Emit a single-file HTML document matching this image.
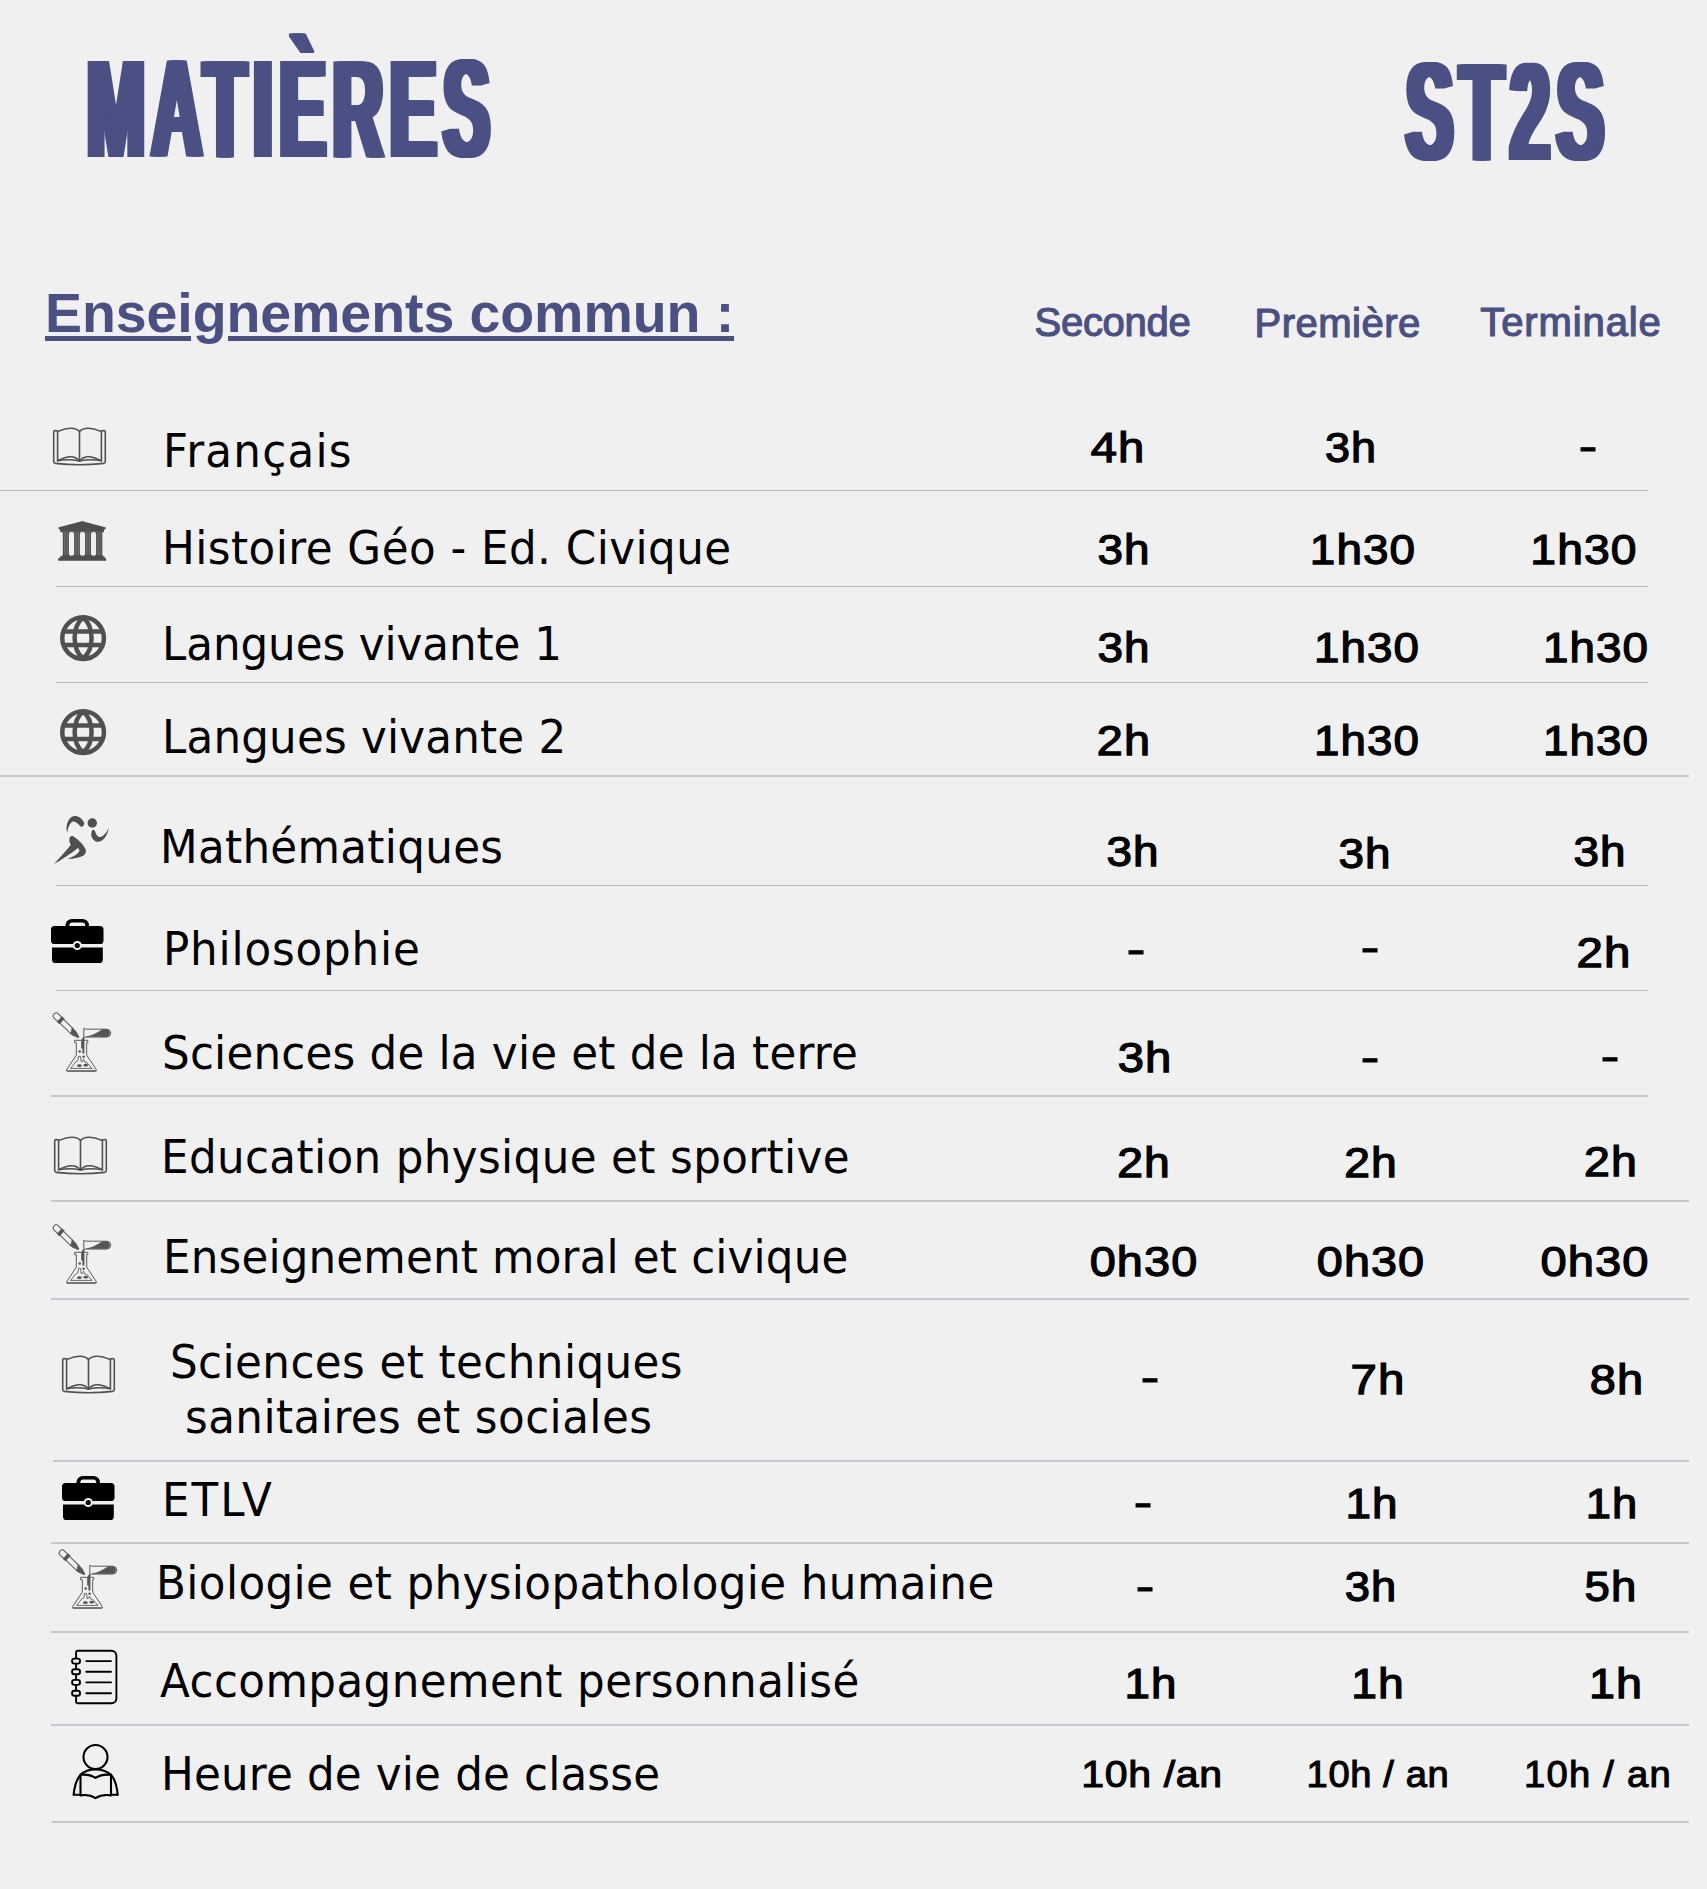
<!DOCTYPE html>
<html lang="fr"><head><meta charset="utf-8"><title>MATIÈRES ST2S</title>
<style>
html,body{margin:0;padding:0;background:#f0f0f0;}
#pg{position:relative;width:1707px;height:1889px;overflow:hidden;background:#f0f0f0;}
.t{position:absolute;white-space:nowrap;line-height:1;margin:0;}
.lab{font-family:"DejaVu Sans", "Liberation Sans", sans-serif;color:#000;}
.val{font-family:"Liberation Sans", sans-serif;color:#000;-webkit-text-stroke:1.25px #000;}
.sm{-webkit-text-stroke:1.05px #000;}
.dash{-webkit-text-stroke:0.8px #000;}
.hd{font-family:"Liberation Sans", sans-serif;color:#4a5084;-webkit-text-stroke:1.2px #4a5084;}
.sec{font-family:"Liberation Sans", sans-serif;color:#4a5084;font-weight:700;text-decoration:underline;text-decoration-thickness:5.2px;text-underline-offset:4.2px;text-decoration-skip-ink:auto;}

.ln{position:absolute;height:2px;background:#c6c6d0;}
.l1{height:1.4px;background:#b6b6be;}
.ic{position:absolute;overflow:visible;}
.ttl{position:absolute;white-space:nowrap;line-height:1;font-family:"Liberation Sans", sans-serif;font-weight:700;color:#4a5084;
 font-size:139.5px;letter-spacing:14px;transform-origin:0 0;transform:scaleX(0.498);
 text-shadow:8px 0 0 #4a5084,-8px 0 0 #4a5084,4px 0 0 #4a5084,-4px 0 0 #4a5084;}
</style></head>
<body><main id="pg">
<header class="top">
<div class="ttl" style="left:87px;top:40px;">MATIÈRES</div>
<div class="ttl" style="left:1405.5px;top:43px;transform:scaleX(0.506)">ST2S</div>
</header>
<div class="heads">
<div class="t hd" style="left:1112.5px;top:302.3px;font-size:40px;letter-spacing:-0.3px;transform:translateX(-50%);">Seconde</div>
<div class="t hd" style="left:1337.7px;top:303.2px;font-size:40px;letter-spacing:0.5px;transform:translateX(-50%);">Première</div>
<div class="t hd" style="left:1571.0px;top:302.3px;font-size:40px;letter-spacing:0.9px;transform:translateX(-50%);">Terminale</div>
<div class="t sec" style="left:45.0px;top:286.2px;font-size:55.5px;letter-spacing:-0.08px;">Enseignements commun :</div>
</div>
<div class="row">
<svg class="ic" style="left:53px;top:427px" width="53" height="38.51" viewBox="0 0 53 39.5" preserveAspectRatio="none"><g fill="none" stroke="#505050" stroke-width="1.6" stroke-linejoin="round" stroke-linecap="round"><path d="M4.6 4.2 L2.2 3.6 Q0.7 3.6 0.7 5.2 L0.7 35.5 Q0.7 37.2 2.3 37.3 Q26.5 40 50.7 37.3 Q52.3 37.2 52.3 35.5 L52.3 5.2 Q52.3 3.6 50.8 3.6 L48.4 4.2"/><path d="M4.6 34.6 L4.6 4.6 C12 1.5 21.5 -1.5 26.5 4.6 L26.5 34.8"/><path d="M48.4 34.6 L48.4 4.6 C41 1.5 31.5 -1.5 26.5 4.6"/><path d="M4.6 34.6 C12 31 20.5 27.5 26.5 34.8 C32.5 27.5 41 31 48.4 34.6"/><path d="M4.6 34.6 C13 33.2 20 33.4 26.5 35 C33 33.4 40 33.2 48.4 34.6"/></g></svg>
<div class="t lab" style="left:162.8px;top:427.8px;font-size:46.4px;letter-spacing:1.341px;transform-origin:0 0;transform:scaleX(0.94);">Français</div>
<div class="t val" style="left:1117.5px;top:427.3px;font-size:42.4px;letter-spacing:1.0px;transform:translateX(-50%) scaleX(1.1136);">4h</div>
<div class="t val" style="left:1351.2px;top:427.3px;font-size:42.4px;letter-spacing:1.0px;transform:translateX(-50%) scaleX(1.0606);">3h</div>
<div class="t val dash" style="left:1587.8px;top:425.7px;font-size:42.4px;transform:translateX(-50%) scaleX(1.35);">-</div>
<div class="ln l1" style="left:0.0px;top:489.7px;width:1647.6px"></div>
</div>
<div class="row">
<svg class="ic" style="left:58px;top:521px" width="48.2" height="40.00" viewBox="0 0 48.2 40"><g fill="#4e4e4e"><path d="M23 0.4 Q24.2 -0.3 25.4 0.4 L47.4 6.2 Q48.2 7.4 47.2 8.4 L46 8.5 L46 11.2 L2.2 11.2 L2.2 8.5 L1 8.4 Q0 7.4 0.8 6.2 Z"/><rect x="4.9" y="10.5" width="39.3" height="25" fill="#727272"/><rect x="4.9" y="10.5" width="1.3" height="25"/><rect x="7.4" y="10.5" width="1.1" height="25"/><rect x="9.7" y="10.5" width="1.3" height="25"/><rect x="16" y="10.5" width="1.3" height="25"/><rect x="18.5" y="10.5" width="1.1" height="25"/><rect x="20.8" y="10.5" width="1.3" height="25"/><rect x="27" y="10.5" width="1.3" height="25"/><rect x="29.6" y="10.5" width="1.1" height="25"/><rect x="31.9" y="10.5" width="1.3" height="25"/><rect x="38" y="10.5" width="1.3" height="25"/><rect x="40.6" y="10.5" width="1.1" height="25"/><rect x="42.9" y="10.5" width="1.3" height="25"/><path d="M4.2 33.9 H44.8 V35.3 H46.6 V37 H48 V39.8 H0.2 V37 H2 V35.3 H4.2Z"/><g fill="#f0f0f0"><rect x="10.9" y="11" width="5.2" height="23.8" rx="2.4"/><rect x="21.9" y="11" width="5.2" height="23.8" rx="2.4"/><rect x="33" y="11" width="5.1" height="23.8" rx="2.4"/></g></g></svg>
<div class="t lab" style="left:162.0px;top:524.8px;font-size:46.4px;letter-spacing:0.496px;transform-origin:0 0;transform:scaleX(0.94);">Histoire Géo - Ed. Civique</div>
<div class="t val" style="left:1124.0px;top:529.1px;font-size:42.4px;letter-spacing:1.0px;transform:translateX(-50%) scaleX(1.0825);">3h</div>
<div class="t val" style="left:1362.5px;top:529.1px;font-size:42.4px;letter-spacing:1.0px;transform:translateX(-50%) scaleX(1.0812);">1h30</div>
<div class="t val" style="left:1583.5px;top:529.1px;font-size:42.4px;letter-spacing:1.0px;transform:translateX(-50%) scaleX(1.0918);">1h30</div>
<div class="ln l1" style="left:56.4px;top:585.7px;width:1591.2px"></div>
</div>
<div class="row">
<svg class="ic" style="left:60px;top:615px" width="46.2" height="46.20" viewBox="0 0 46.2 46.2"><g fill="none" stroke="#505050" stroke-width="4.5" stroke-linejoin="miter"><circle cx="23.1" cy="23.1" r="20.85"/><path d="M23.1 2.6 C11.8 12 11.8 34.2 23.1 43.6 C34.4 34.2 34.4 12 23.1 2.6Z"/><path d="M3 16.5 H43.2 M3 29.9 H43.2"/></g></svg>
<div class="t lab" style="left:161.6px;top:620.8px;font-size:46.4px;letter-spacing:-0.073px;transform-origin:0 0;transform:scaleX(0.94);">Langues vivante 1</div>
<div class="t val" style="left:1124.0px;top:627.3px;font-size:42.4px;letter-spacing:1.0px;transform:translateX(-50%) scaleX(1.0825);">3h</div>
<div class="t val" style="left:1366.5px;top:627.3px;font-size:42.4px;letter-spacing:1.0px;transform:translateX(-50%) scaleX(1.0772);">1h30</div>
<div class="t val" style="left:1596.4px;top:627.3px;font-size:42.4px;letter-spacing:1.0px;transform:translateX(-50%) scaleX(1.0791);">1h30</div>
<div class="ln l1" style="left:56.4px;top:681.9px;width:1591.2px"></div>
</div>
<div class="row">
<svg class="ic" style="left:60px;top:708.5px" width="46.2" height="46.20" viewBox="0 0 46.2 46.2"><g fill="none" stroke="#505050" stroke-width="4.5" stroke-linejoin="miter"><circle cx="23.1" cy="23.1" r="20.85"/><path d="M23.1 2.6 C11.8 12 11.8 34.2 23.1 43.6 C34.4 34.2 34.4 12 23.1 2.6Z"/><path d="M3 16.5 H43.2 M3 29.9 H43.2"/></g></svg>
<div class="t lab" style="left:161.6px;top:713.8px;font-size:46.4px;letter-spacing:0.208px;transform-origin:0 0;transform:scaleX(0.94);">Langues vivante 2</div>
<div class="t val" style="left:1123.5px;top:719.8px;font-size:42.4px;letter-spacing:1.0px;transform:translateX(-50%) scaleX(1.1042);">2h</div>
<div class="t val" style="left:1366.5px;top:719.8px;font-size:42.4px;letter-spacing:1.0px;transform:translateX(-50%) scaleX(1.0772);">1h30</div>
<div class="t val" style="left:1596.4px;top:719.8px;font-size:42.4px;letter-spacing:1.0px;transform:translateX(-50%) scaleX(1.0791);">1h30</div>
<div class="ln" style="left:0.0px;top:774.9px;width:1688.7px"></div>
</div>
<div class="row">
<svg class="ic" style="left:40px;top:805px" width="80" height="60.00" viewBox="0 0 80 60"><g fill="#4f4f4f"><path d="M27.2 27.8 C25.4 21 27.6 14.5 31.5 11.9 C35.5 9.6 41.5 12 44.1 17.6 C44.8 20 43 22.4 40.6 21.4 C38.2 19 35.5 15.8 32.8 16.6 C29.5 18 28 23 27.2 27.8Z"/><circle cx="52.3" cy="18" r="4.75"/><path d="M52.9 24.8 C50.6 26.5 50.8 31.5 53 34.3 C55 36.8 58.5 37.6 61 36.1 C65.5 33.3 68 28.5 68.6 23 C66.5 28 63.5 31.2 60.6 32 C58 32.4 56.6 30.5 55.6 27.8 C55.2 26.2 54.4 24.9 52.9 24.8Z"/><path d="M30 32 C30.8 31 32.4 30.8 33.6 31.6 C37.5 34.2 42.5 38.5 45.2 43.6 C46.6 46.5 45.8 49 43.6 50.4 C39 53 33 53.8 27.6 53.7 C31.5 52.6 36 50.4 38.4 47.6 C40 45.8 39.6 44 37.8 43 C30.5 49 22 54.6 14 58.9 C20 52.5 26.5 45.5 30.9 39.8 C29.2 37.5 28.8 34 30 32Z"/></g></svg>
<div class="t lab" style="left:159.6px;top:823.8px;font-size:46.4px;letter-spacing:0.342px;transform-origin:0 0;transform:scaleX(0.94);">Mathématiques</div>
<div class="t val" style="left:1133.2px;top:831.3px;font-size:42.4px;letter-spacing:1.0px;transform:translateX(-50%) scaleX(1.0825);">3h</div>
<div class="t val" style="left:1365.4px;top:833.1px;font-size:42.4px;letter-spacing:1.0px;transform:translateX(-50%) scaleX(1.0825);">3h</div>
<div class="t val" style="left:1600.4px;top:831.3px;font-size:42.4px;letter-spacing:1.0px;transform:translateX(-50%) scaleX(1.0825);">3h</div>
<div class="ln l1" style="left:56.4px;top:884.8px;width:1591.2px"></div>
</div>
<div class="row">
<svg class="ic" style="left:40px;top:910px" width="80" height="60.00" viewBox="0 0 80 60"><g fill="#000"><path d="M25.5 17 V15.4 A6.5 6.5 0 0 1 32 8.9 H42.5 A6.5 6.5 0 0 1 49 15.4 V17 H45.2 V15.6 A3 3 0 0 0 42.2 12.6 H32.3 A3 3 0 0 0 29.3 15.6 V17Z"/><rect x="11" y="15.9" width="52.5" height="18.1" rx="3.6"/><path d="M12 37.5 H62.8 V49.4 A3.6 3.6 0 0 1 59.2 53 H15.6 A3.6 3.6 0 0 1 12 49.4Z"/><circle cx="37.25" cy="35.5" r="4.5" fill="#f0f0f0"/><circle cx="37.25" cy="35.5" r="2.6"/></g></svg>
<div class="t lab" style="left:163.4px;top:925.8px;font-size:46.4px;letter-spacing:0.88px;transform-origin:0 0;transform:scaleX(0.94);">Philosophie</div>
<div class="t val dash" style="left:1135.7px;top:929.2px;font-size:42.4px;transform:translateX(-50%) scaleX(1.35);">-</div>
<div class="t val dash" style="left:1370.1px;top:927.2px;font-size:42.4px;transform:translateX(-50%) scaleX(1.35);">-</div>
<div class="t val" style="left:1604.0px;top:931.7px;font-size:42.4px;letter-spacing:1.0px;transform:translateX(-50%) scaleX(1.1191);">2h</div>
<div class="ln l1" style="left:56.4px;top:989.5px;width:1591.2px"></div>
</div>
<div class="row">
<svg class="ic" style="left:40px;top:1005px" width="80" height="75.00" viewBox="0 0 80 75"><g fill="none" stroke="#5a5a5a" stroke-width="1" stroke-linejoin="round" stroke-linecap="round"><g transform="translate(14.06 8.9) rotate(-46.1) translate(-3 0)"><path d="M0 8 V3 A3 3 0 0 1 6 3 V8"/><rect x="-0.8" y="7.4" width="7.6" height="3.7" fill="#555" stroke="none"/><path d="M0.4 11 V26 M5.6 11 V24"/><path d="M0.4 25.6 L5.6 22.6 L5.6 28 L3.7 34 L2.5 34 L0.4 28Z" fill="#555" stroke="#555" stroke-width="0.6"/></g><path d="M46 24.2 H66.8 A3.9 3.9 0 0 1 66.8 32 H46 L43.8 32.4 V23.6 Z"/><path d="M47 31.6 C54 30.5 58 27 62.5 24.6 H66.8 A3.7 3.7 0 0 1 66.8 31.8Z" fill="#555" stroke="#555" stroke-width="0.6"/><path d="M43.9 32 C41.8 33 41.2 35 41.2 37 V43.5 H42.4 V48.6 H44.4 V33.5Z" fill="#555" stroke="none"/><path d="M35 35.3 H47.8 V37.6 H46.7 V50.2 L56.3 64.6 Q56.8 66.3 55 66.4 H28 Q26.2 66.3 26.7 64.6 L36.3 50.2 V37.6 H35Z"/><path d="M31 63.4 H52 L46.5 57.2 H44.8 L43.6 54.2 L42.2 56.6 H41.2 L40.6 51.4 H38.4 L38 55.6 L36 56.8Z" stroke-width="0.9"/><path d="M27.2 65.9 H55.8" stroke-width="1.6" stroke="#777"/><g fill="#555" stroke="none"><circle cx="39.7" cy="46.6" r="1.25"/><circle cx="43.6" cy="51.8" r="1.25"/><ellipse cx="39.4" cy="60.7" rx="2.4" ry="1.35"/><ellipse cx="45.7" cy="60.2" rx="2.4" ry="1.35"/></g></g></svg>
<div class="t lab" style="left:161.6px;top:1029.8px;font-size:46.4px;letter-spacing:0.225px;transform-origin:0 0;transform:scaleX(0.94);">Sciences de la vie et de la terre</div>
<div class="t val" style="left:1145.1px;top:1036.7px;font-size:42.4px;letter-spacing:1.0px;transform:translateX(-50%) scaleX(1.1137);">3h</div>
<div class="t val dash" style="left:1370.1px;top:1036.5px;font-size:42.4px;transform:translateX(-50%) scaleX(1.35);">-</div>
<div class="t val dash" style="left:1609.5px;top:1036.2px;font-size:42.4px;transform:translateX(-50%) scaleX(1.35);">-</div>
<div class="ln" style="left:50.8px;top:1095.0px;width:1596.8px"></div>
</div>
<div class="row">
<svg class="ic" style="left:54px;top:1135.6px" width="53" height="38.51" viewBox="0 0 53 39.5" preserveAspectRatio="none"><g fill="none" stroke="#505050" stroke-width="1.6" stroke-linejoin="round" stroke-linecap="round"><path d="M4.6 4.2 L2.2 3.6 Q0.7 3.6 0.7 5.2 L0.7 35.5 Q0.7 37.2 2.3 37.3 Q26.5 40 50.7 37.3 Q52.3 37.2 52.3 35.5 L52.3 5.2 Q52.3 3.6 50.8 3.6 L48.4 4.2"/><path d="M4.6 34.6 L4.6 4.6 C12 1.5 21.5 -1.5 26.5 4.6 L26.5 34.8"/><path d="M48.4 34.6 L48.4 4.6 C41 1.5 31.5 -1.5 26.5 4.6"/><path d="M4.6 34.6 C12 31 20.5 27.5 26.5 34.8 C32.5 27.5 41 31 48.4 34.6"/><path d="M4.6 34.6 C13 33.2 20 33.4 26.5 35 C33 33.4 40 33.2 48.4 34.6"/></g></svg>
<div class="t lab" style="left:161.2px;top:1133.8px;font-size:46.4px;letter-spacing:0.402px;transform-origin:0 0;transform:scaleX(0.94);">Education physique et sportive</div>
<div class="t val" style="left:1144.2px;top:1142.1px;font-size:42.4px;letter-spacing:1.0px;transform:translateX(-50%) scaleX(1.0927);">2h</div>
<div class="t val" style="left:1371.0px;top:1142.1px;font-size:42.4px;letter-spacing:1.0px;transform:translateX(-50%) scaleX(1.0914);">2h</div>
<div class="t val" style="left:1611.0px;top:1141.3px;font-size:42.4px;letter-spacing:1.0px;transform:translateX(-50%) scaleX(1.0972);">2h</div>
<div class="ln" style="left:50.8px;top:1200.0px;width:1637.9px"></div>
</div>
<div class="row">
<svg class="ic" style="left:40.3px;top:1216.7px" width="80" height="75.00" viewBox="0 0 80 75"><g fill="none" stroke="#5a5a5a" stroke-width="1" stroke-linejoin="round" stroke-linecap="round"><g transform="translate(14.06 8.9) rotate(-46.1) translate(-3 0)"><path d="M0 8 V3 A3 3 0 0 1 6 3 V8"/><rect x="-0.8" y="7.4" width="7.6" height="3.7" fill="#555" stroke="none"/><path d="M0.4 11 V26 M5.6 11 V24"/><path d="M0.4 25.6 L5.6 22.6 L5.6 28 L3.7 34 L2.5 34 L0.4 28Z" fill="#555" stroke="#555" stroke-width="0.6"/></g><path d="M46 24.2 H66.8 A3.9 3.9 0 0 1 66.8 32 H46 L43.8 32.4 V23.6 Z"/><path d="M47 31.6 C54 30.5 58 27 62.5 24.6 H66.8 A3.7 3.7 0 0 1 66.8 31.8Z" fill="#555" stroke="#555" stroke-width="0.6"/><path d="M43.9 32 C41.8 33 41.2 35 41.2 37 V43.5 H42.4 V48.6 H44.4 V33.5Z" fill="#555" stroke="none"/><path d="M35 35.3 H47.8 V37.6 H46.7 V50.2 L56.3 64.6 Q56.8 66.3 55 66.4 H28 Q26.2 66.3 26.7 64.6 L36.3 50.2 V37.6 H35Z"/><path d="M31 63.4 H52 L46.5 57.2 H44.8 L43.6 54.2 L42.2 56.6 H41.2 L40.6 51.4 H38.4 L38 55.6 L36 56.8Z" stroke-width="0.9"/><path d="M27.2 65.9 H55.8" stroke-width="1.6" stroke="#777"/><g fill="#555" stroke="none"><circle cx="39.7" cy="46.6" r="1.25"/><circle cx="43.6" cy="51.8" r="1.25"/><ellipse cx="39.4" cy="60.7" rx="2.4" ry="1.35"/><ellipse cx="45.7" cy="60.2" rx="2.4" ry="1.35"/></g></g></svg>
<div class="t lab" style="left:162.8px;top:1233.8px;font-size:46.4px;letter-spacing:0.177px;transform-origin:0 0;transform:scaleX(0.94);">Enseignement moral et civique</div>
<div class="t val" style="left:1143.5px;top:1241.0px;font-size:42.4px;letter-spacing:1.0px;transform:translateX(-50%) scaleX(1.1044);">0h30</div>
<div class="t val" style="left:1370.5px;top:1241.0px;font-size:42.4px;letter-spacing:1.0px;transform:translateX(-50%) scaleX(1.1021);">0h30</div>
<div class="t val" style="left:1594.5px;top:1241.0px;font-size:42.4px;letter-spacing:1.0px;transform:translateX(-50%) scaleX(1.1109);">0h30</div>
<div class="ln" style="left:50.8px;top:1298.0px;width:1637.9px"></div>
</div>
<div class="row">
<svg class="ic" style="left:62px;top:1354.6px" width="53" height="38.51" viewBox="0 0 53 39.5" preserveAspectRatio="none"><g fill="none" stroke="#505050" stroke-width="1.6" stroke-linejoin="round" stroke-linecap="round"><path d="M4.6 4.2 L2.2 3.6 Q0.7 3.6 0.7 5.2 L0.7 35.5 Q0.7 37.2 2.3 37.3 Q26.5 40 50.7 37.3 Q52.3 37.2 52.3 35.5 L52.3 5.2 Q52.3 3.6 50.8 3.6 L48.4 4.2"/><path d="M4.6 34.6 L4.6 4.6 C12 1.5 21.5 -1.5 26.5 4.6 L26.5 34.8"/><path d="M48.4 34.6 L48.4 4.6 C41 1.5 31.5 -1.5 26.5 4.6"/><path d="M4.6 34.6 C12 31 20.5 27.5 26.5 34.8 C32.5 27.5 41 31 48.4 34.6"/><path d="M4.6 34.6 C13 33.2 20 33.4 26.5 35 C33 33.4 40 33.2 48.4 34.6"/></g></svg>
<div class="t lab" style="left:170.3px;top:1338.8px;font-size:46.4px;letter-spacing:0.457px;transform-origin:0 0;transform:scaleX(0.94);">Sciences et techniques</div>
<div class="t lab" style="left:184.8px;top:1393.8px;font-size:46.4px;letter-spacing:0.494px;transform-origin:0 0;transform:scaleX(0.94);">sanitaires et sociales</div>
<div class="t val dash" style="left:1150.2px;top:1357.2px;font-size:42.4px;transform:translateX(-50%) scaleX(1.35);">-</div>
<div class="t val" style="left:1377.5px;top:1358.5px;font-size:42.4px;letter-spacing:1.0px;transform:translateX(-50%) scaleX(1.1194);">7h</div>
<div class="t val" style="left:1616.8px;top:1358.5px;font-size:42.4px;letter-spacing:1.0px;transform:translateX(-50%) scaleX(1.1064);">8h</div>
<div class="ln" style="left:53.4px;top:1460.3px;width:1635.3px"></div>
</div>
<div class="row">
<svg class="ic" style="left:51px;top:1467.4px" width="80" height="60.00" viewBox="0 0 80 60"><g fill="#000"><path d="M25.5 17 V15.4 A6.5 6.5 0 0 1 32 8.9 H42.5 A6.5 6.5 0 0 1 49 15.4 V17 H45.2 V15.6 A3 3 0 0 0 42.2 12.6 H32.3 A3 3 0 0 0 29.3 15.6 V17Z"/><rect x="11" y="15.9" width="52.5" height="18.1" rx="3.6"/><path d="M12 37.5 H62.8 V49.4 A3.6 3.6 0 0 1 59.2 53 H15.6 A3.6 3.6 0 0 1 12 49.4Z"/><circle cx="37.25" cy="35.5" r="4.5" fill="#f0f0f0"/><circle cx="37.25" cy="35.5" r="2.6"/></g></svg>
<div class="t lab" style="left:162.2px;top:1476.8px;font-size:46.4px;letter-spacing:2.2px;transform-origin:0 0;transform:scaleX(0.94);">ETLV</div>
<div class="t val dash" style="left:1143.0px;top:1482.2px;font-size:42.4px;transform:translateX(-50%) scaleX(1.35);">-</div>
<div class="t val" style="left:1371.8px;top:1482.8px;font-size:42.4px;letter-spacing:1.0px;transform:translateX(-50%) scaleX(1.0832);">1h</div>
<div class="t val" style="left:1611.7px;top:1482.8px;font-size:42.4px;letter-spacing:1.0px;transform:translateX(-50%) scaleX(1.0696);">1h</div>
<div class="ln" style="left:50.8px;top:1541.5px;width:1637.9px"></div>
</div>
<div class="row">
<svg class="ic" style="left:46.4px;top:1542px" width="80" height="75.00" viewBox="0 0 80 75"><g fill="none" stroke="#5a5a5a" stroke-width="1" stroke-linejoin="round" stroke-linecap="round"><g transform="translate(14.06 8.9) rotate(-46.1) translate(-3 0)"><path d="M0 8 V3 A3 3 0 0 1 6 3 V8"/><rect x="-0.8" y="7.4" width="7.6" height="3.7" fill="#555" stroke="none"/><path d="M0.4 11 V26 M5.6 11 V24"/><path d="M0.4 25.6 L5.6 22.6 L5.6 28 L3.7 34 L2.5 34 L0.4 28Z" fill="#555" stroke="#555" stroke-width="0.6"/></g><path d="M46 24.2 H66.8 A3.9 3.9 0 0 1 66.8 32 H46 L43.8 32.4 V23.6 Z"/><path d="M47 31.6 C54 30.5 58 27 62.5 24.6 H66.8 A3.7 3.7 0 0 1 66.8 31.8Z" fill="#555" stroke="#555" stroke-width="0.6"/><path d="M43.9 32 C41.8 33 41.2 35 41.2 37 V43.5 H42.4 V48.6 H44.4 V33.5Z" fill="#555" stroke="none"/><path d="M35 35.3 H47.8 V37.6 H46.7 V50.2 L56.3 64.6 Q56.8 66.3 55 66.4 H28 Q26.2 66.3 26.7 64.6 L36.3 50.2 V37.6 H35Z"/><path d="M31 63.4 H52 L46.5 57.2 H44.8 L43.6 54.2 L42.2 56.6 H41.2 L40.6 51.4 H38.4 L38 55.6 L36 56.8Z" stroke-width="0.9"/><path d="M27.2 65.9 H55.8" stroke-width="1.6" stroke="#777"/><g fill="#555" stroke="none"><circle cx="39.7" cy="46.6" r="1.25"/><circle cx="43.6" cy="51.8" r="1.25"/><ellipse cx="39.4" cy="60.7" rx="2.4" ry="1.35"/><ellipse cx="45.7" cy="60.2" rx="2.4" ry="1.35"/></g></g></svg>
<div class="t lab" style="left:156.4px;top:1559.8px;font-size:46.4px;letter-spacing:0.415px;transform-origin:0 0;transform:scaleX(0.94);">Biologie et physiopathologie humaine</div>
<div class="t val dash" style="left:1144.8px;top:1565.7px;font-size:42.4px;transform:translateX(-50%) scaleX(1.35);">-</div>
<div class="t val" style="left:1370.5px;top:1565.9px;font-size:42.4px;letter-spacing:1.0px;transform:translateX(-50%) scaleX(1.0695);">3h</div>
<div class="t val" style="left:1610.5px;top:1565.9px;font-size:42.4px;letter-spacing:1.0px;transform:translateX(-50%) scaleX(1.0749);">5h</div>
<div class="ln" style="left:50.8px;top:1631.4px;width:1637.9px"></div>
</div>
<div class="row">
<svg class="ic" style="left:55px;top:1640px" width="80" height="75.00" viewBox="0 0 80 75"><g fill="none" stroke="#000" stroke-width="1.9" stroke-linecap="round"><path d="M22.6 10.8 H56.4 A5 5 0 0 1 61.4 15.8 V58.3 A5 5 0 0 1 56.4 63.3 H22.6 A1.5 1.5 0 0 1 21.1 61.8 V12.3 A1.5 1.5 0 0 1 22.6 10.8Z"/><path d="M31.3 21.1 H56 M31.3 31.8 H56 M31.3 42.4 H56 M31.3 53.2 H56"/><g fill="#f0f0f0"><rect x="17.1" y="18.6" width="7.9" height="5" rx="2.3"/><rect x="17.1" y="29.3" width="7.9" height="5" rx="2.3"/><rect x="17.1" y="39.9" width="7.9" height="5" rx="2.3"/><rect x="17.1" y="50.7" width="7.9" height="5" rx="2.3"/></g></g></svg>
<div class="t lab" style="left:159.8px;top:1657.8px;font-size:46.4px;letter-spacing:0.454px;transform-origin:0 0;transform:scaleX(0.94);">Accompagnement personnalisé</div>
<div class="t val" style="left:1150.5px;top:1662.5px;font-size:42.4px;letter-spacing:1.0px;transform:translateX(-50%) scaleX(1.0787);">1h</div>
<div class="t val" style="left:1377.7px;top:1662.5px;font-size:42.4px;letter-spacing:1.0px;transform:translateX(-50%) scaleX(1.0918);">1h</div>
<div class="t val" style="left:1616.4px;top:1662.5px;font-size:42.4px;letter-spacing:1.0px;transform:translateX(-50%) scaleX(1.1013);">1h</div>
<div class="ln" style="left:50.8px;top:1723.8px;width:1637.9px"></div>
</div>
<div class="row">
<svg class="ic" style="left:55px;top:1735px" width="80" height="75.00" viewBox="0 0 80 75"><g fill="none" stroke="#000" stroke-width="2.1" stroke-linejoin="round" stroke-linecap="round"><circle cx="40.5" cy="22" r="12"/><path d="M18.7 59.7 C19.5 50 22 44 25.4 39.8 C29.5 36 35 34.4 40.5 34.4 C46 34.4 51.5 36 56.1 39.8 C59.5 44 62 50 62.6 59.7"/><path d="M18.7 59.7 H25.5 M56 59.7 H62.6"/><path d="M25.5 39.8 V60.4 C31.5 59.4 36.5 60.6 40.5 63.2 C44.5 60.6 49.5 59.4 56 60.4 V39.8 C49.5 39.2 44.5 40.4 40.5 42.9 C36.5 40.4 31.5 39.2 25.5 39.8Z"/></g></svg>
<div class="t lab" style="left:160.6px;top:1750.8px;font-size:46.4px;letter-spacing:0.183px;transform-origin:0 0;transform:scaleX(0.94);">Heure de vie de classe</div>
<div class="t val sm" style="left:1151.5px;top:1755.6px;font-size:37px;letter-spacing:0.6px;transform:translateX(-50%) scaleX(1.1101);">10h /an</div>
<div class="t val sm" style="left:1378.0px;top:1755.6px;font-size:37px;letter-spacing:0.6px;transform:translateX(-50%) scaleX(1.0316);">10h / an</div>
<div class="t val sm" style="left:1598.0px;top:1755.6px;font-size:37px;letter-spacing:1.2px;transform:translateX(-50%) scaleX(1.0312);">10h / an</div>
<div class="ln" style="left:52.3px;top:1820.7px;width:1636.4px"></div>
</div>
</main></body></html>
